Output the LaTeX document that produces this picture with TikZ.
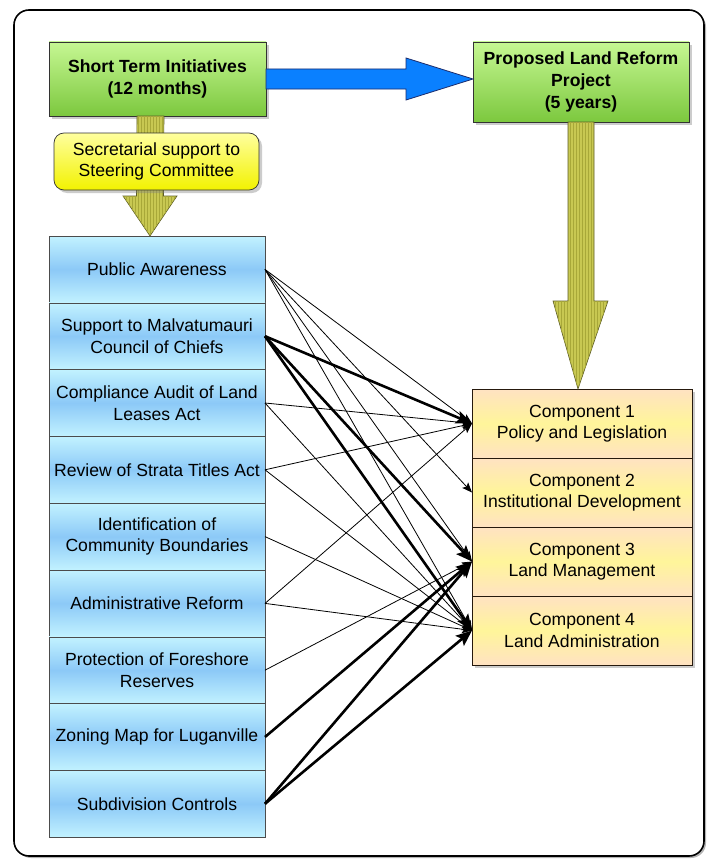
\documentclass[tikz,border=0pt]{standalone}
\usepackage{fontspec}
\setmainfont{Liberation Sans}
\usetikzlibrary{positioning,calc,arrows.meta,shadows,patterns}

\definecolor{greentop}{HTML}{C6F793}
\definecolor{greenbot}{HTML}{7CC83E}
\definecolor{skytop}{HTML}{C2F2FF}
\definecolor{skymid}{HTML}{8CC9F7}
\definecolor{peach}{HTML}{FFE2C2}
\definecolor{lemon}{HTML}{FFF59A}
\definecolor{notetop}{HTML}{FFFF9E}
\definecolor{notebot}{HTML}{F2F200}
\definecolor{olivefill}{HTML}{C8C852}
\definecolor{olivestripe}{HTML}{A8A838}
\definecolor{olivedraw}{HTML}{5C5C24}
\definecolor{azure}{HTML}{0A80FF}
\definecolor{navy}{HTML}{1C2C6C}

\tikzset{box/.style = {draw = #1, outer sep = 0pt, align = center,
                       font = \fontsize{17.6pt}{21.6pt}\selectfont},
         box/.default = black!75,
         shade3/.style = {drop shadow = {shadow xshift = 3pt, shadow yshift = -3pt, opacity = .4}},
         phase/.style = {box = black!80, line width = .8pt, shade3,
                         font = \fontsize{17.6pt}{21.6pt}\selectfont\bfseries,
                         top color = greentop, bottom color = greenbot},
         initiative/.style = {box = black!70, line width = .6pt,
                              minimum width = 216pt, minimum height = 66.8pt,
                              top color = skytop, bottom color = skytop, middle color = skymid},
         component/.style = {box = black!80!brown, line width = .8pt, shade3,
                             minimum width = 220pt, minimum height = 69pt,
                             top color = peach, bottom color = peach, middle color = lemon},
         note/.style = {box = black!80, line width = .7pt, rounded corners = 10pt, shade3,
                        minimum width = 205pt, minimum height = 57pt,
                        top color = notetop, bottom color = notebot},
         olivearrow/.style = {draw = olivedraw, line width = .6pt, fill = olivefill,
                              postaction = {pattern = vertical lines, pattern color = olivestripe}},
         bluearrow/.style = {draw = navy, line width = .8pt, fill = azure},
         link/.style = {line width = .8pt, -{Stealth[length = 10pt, width = 8pt, inset = 2pt]}},
         strong link/.style = {line width = 2.6pt, -{Stealth[length = 16pt, width = 13pt, inset = 3pt]}}
        }

\begin{document}
\begin{tikzpicture}[x = 1pt, y = 1pt]
  \useasboundingbox (0,0) rectangle (712,-859);
  \draw[line width = 1.6pt, rounded corners = 15pt,
        drop shadow = {shadow xshift = 2pt, shadow yshift = -2pt, opacity = .6}, fill = white]
       (14,-10) rectangle (704,-856);

  % the two phases
  \node[phase, minimum width = 217pt, minimum height = 74pt] (sti) at (157.5,-79)
       {Short Term Initiatives\\(12 months)};
  \node[phase, minimum width = 216pt, minimum height = 80pt] (plr) at (581,-82)
       {Proposed Land Reform\\Project\\(5 years)};

  % short term activities
  \node[initiative] (pa) at (157,-269.4) {Public Awareness};
  \node[initiative, below = 0pt of pa] (smc) {Support to Malvatumauri\\Council of Chiefs};
  \node[initiative, below = 0pt of smc] (ca) {Compliance Audit of Land\\Leases Act};
  \node[initiative, below = 0pt of ca] (rst) {Review of Strata Titles Act};
  \node[initiative, below = 0pt of rst] (icb) {Identification of\\Community Boundaries};
  \node[initiative, below = 0pt of icb] (ar) {Administrative Reform};
  \node[initiative, below = 0pt of ar] (pfr) {Protection of Foreshore\\Reserves};
  \node[initiative, below = 0pt of pfr] (zml) {Zoning Map for Luganville};
  \node[initiative, below = 0pt of zml] (sc) {Subdivision Controls};

  % project components
  \node[component] (c1) at (582,-423.5) {Component 1\\Policy and Legislation};
  \node[component, below = 0pt of c1] (c2) {Component 2\\Institutional Development};
  \node[component, below = 0pt of c2] (c3) {Component 3\\Land Management};
  \node[component, below = 0pt of c3] (c4) {Component 4\\Land Administration};

  % block arrows
  \coordinate (bt) at (sti.east -| plr.west);
  \draw[bluearrow] ($(sti.east)+(0,10)$) -- ($(bt)+(-67,10)$) -- ($(bt)+(-67,21)$) -- (bt)
        -- ($(bt)+(-67,-21)$) -- ($(bt)+(-67,-10)$) -- ($(sti.east)+(0,-10)$) -- cycle;

  \coordinate (o1) at ($(sti.south)+(-7,0)$);
  \coordinate (t1) at ($(pa.north)+(-7,0)$);
  \draw[olivearrow] ($(o1)+(-13.5,0)$) -- ($(t1)+(-13.5,40)$) -- ($(t1)+(-27,40)$) -- (t1)
        -- ($(t1)+(27,40)$) -- ($(t1)+(13.5,40)$) -- ($(o1)+(13.5,0)$) -- cycle;

  \coordinate (o2) at (plr.south);
  \coordinate (t2) at ($(c1.north)+(-4,0)$);
  \draw[olivearrow] ($(o2)+(-13,0)$) -- ($(t2)+(-10,88)$) -- ($(t2)+(-25,88)$) -- (t2)
        -- ($(t2)+(30,88)$) -- ($(t2)+(16,88)$) -- ($(o2)+(13,0)$) -- cycle;

  \node[note] (scs) at (156.5,-161.5) {Secretarial support to\\Steering Committee};

  % links
  \draw[link] (pa.east) -- (c1.west);
  \draw[link] (pa.east) -- (c2.west);
  \draw[link] (pa.east) -- (c3.west);
  \draw[link] (pa.east) -- (c4.west);
  \draw[strong link] (smc.east) -- (c1.west);
  \draw[strong link] (smc.east) -- (c3.west);
  \draw[strong link] (smc.east) -- (c4.west);
  \draw[link] (ca.east) -- (c1.west);
  \draw[link] (ca.east) -- (c4.west);
  \draw[link] (rst.east) -- (c1.west);
  \draw[link] (rst.east) -- (c4.west);
  \draw[link] (icb.east) -- (c4.west);
  \draw[link] (ar.east) -- (c1.west);
  \draw[link] (ar.east) -- (c4.west);
  \draw[link] (pfr.east) -- (c3.west);
  \draw[strong link] (zml.east) -- (c3.west);
  \draw[strong link] (sc.east) -- (c3.west);
  \draw[strong link] (sc.east) -- (c4.west);
\end{tikzpicture}
\end{document}
